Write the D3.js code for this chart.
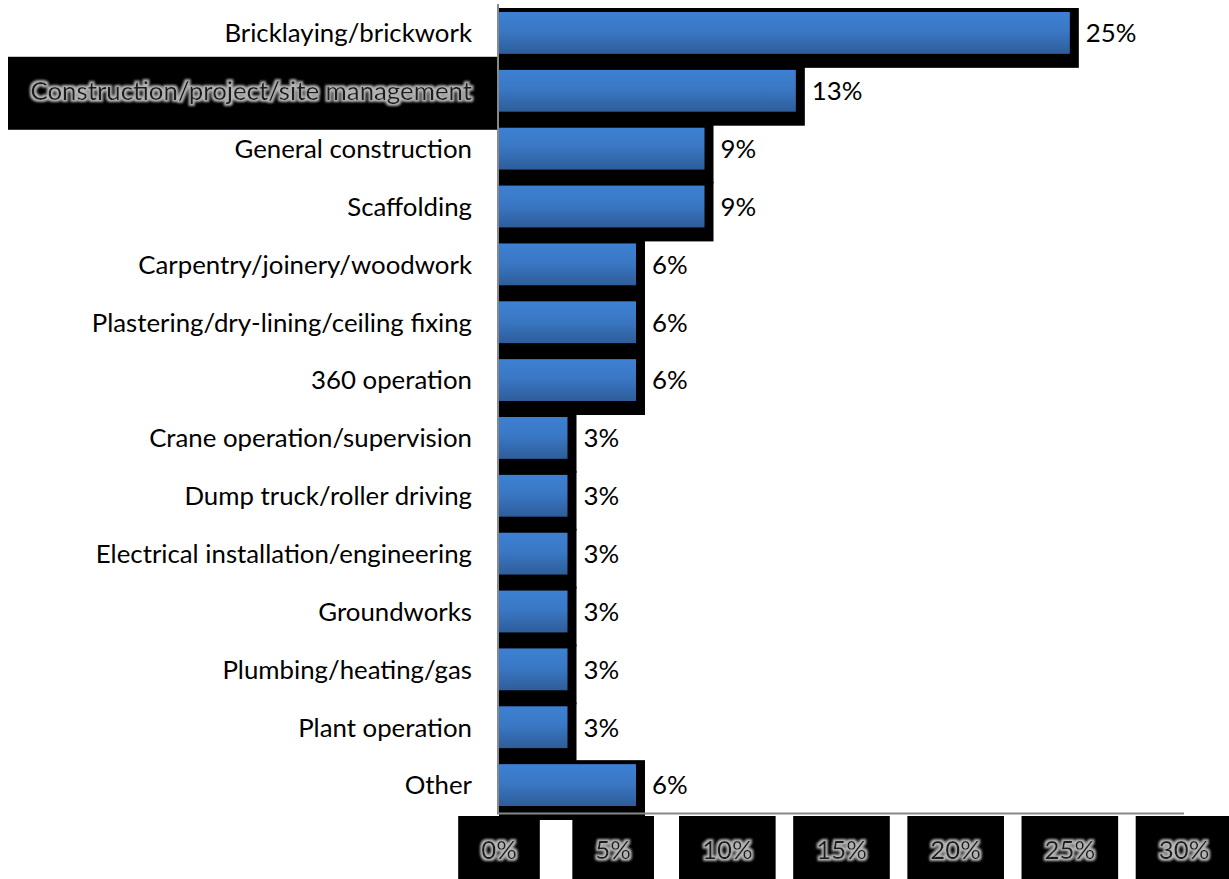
<!DOCTYPE html>
<html>
<head>
<meta charset="utf-8">
<script src="https://cdn.jsdelivr.net/npm/d3@7"></script>
<style>
  html, body { margin: 0; padding: 0; background: #fff; }
  svg { display: block; }
  text { font-family: Lato, "Open Sans", sans-serif; }
</style>
</head>
<body>
<svg id="chart" width="1229" height="879"></svg>
<script>
// Trades reported (share of respondents)
const categories = [
  "Bricklaying/brickwork",
  "Construction/project/site management",
  "General construction",
  "Scaffolding",
  "Carpentry/joinery/woodwork",
  "Plastering/dry-lining/ceiling fixing",
  "360 operation",
  "Crane operation/supervision",
  "Dump truck/roller driving",
  "Electrical installation/engineering",
  "Groundworks",
  "Plumbing/heating/gas",
  "Plant operation",
  "Other"
];
const values = [25, 13, 9, 9, 6, 6, 6, 3, 3, 3, 3, 3, 3, 6];
const tickValues = [0, 5, 10, 15, 20, 25, 30];
const highlighted = "Construction/project/site management";

const FONT_SIZE = 25.8;
const svg = d3.select("#chart");

const x = d3.scaleLinear().domain([0, 30]).range([499, 1184]);
const y = d3.scaleBand().domain(categories).range([4, 814])
  .paddingInner(0.277).paddingOuter(0.1385);

const defs = svg.append("defs");
const grad = defs.append("linearGradient").attr("id", "barFill")
  .attr("x1", 0).attr("y1", 0).attr("x2", 0).attr("y2", 1);
grad.append("stop").attr("offset", "0%").attr("stop-color", "#3d80d2");
grad.append("stop").attr("offset", "45%").attr("stop-color", "#3a78c5");
grad.append("stop").attr("offset", "100%").attr("stop-color", "#2e5d99");

// soft grey halo around dark text
const glow = defs.append("filter").attr("id", "glow")
  .attr("x", "-20%").attr("y", "-40%").attr("width", "140%").attr("height", "180%");
glow.append("feMorphology").attr("in", "SourceAlpha").attr("operator", "dilate")
  .attr("radius", 1.6).attr("result", "thick");
glow.append("feGaussianBlur").attr("in", "thick").attr("stdDeviation", 1.3).attr("result", "blur");
glow.append("feFlood").attr("flood-color", "#b4b4b4").attr("result", "col");
glow.append("feComposite").attr("in", "col").attr("in2", "blur").attr("operator", "in").attr("result", "halo");
const merge = glow.append("feMerge");
merge.append("feMergeNode").attr("in", "halo");
merge.append("feMergeNode").attr("in", "SourceGraphic");

// bars: black backing block plus gradient face
const bars = svg.append("g").selectAll("g").data(categories).join("g");
bars.append("rect")
  .attr("x", x(0))
  .attr("y", d => y(d) - 4)
  .attr("width", (d, i) => x(values[i]) - x(0) + 9)
  .attr("height", y.bandwidth() + 18)
  .attr("fill", "#000");
bars.append("rect")
  .attr("x", x(0))
  .attr("y", d => y(d))
  .attr("width", (d, i) => x(values[i]) - x(0))
  .attr("height", y.bandwidth())
  .attr("fill", "url(#barFill)");

// value labels
svg.append("g").selectAll("text").data(categories).join("text")
  .attr("x", (d, i) => x(values[i]) + 16)
  .attr("y", d => y(d) + y.bandwidth() / 2)
  .attr("dy", "0.36em")
  .attr("font-size", FONT_SIZE)
  .attr("fill", "#000")
  .text((d, i) => values[i] + "%");

// category labels
const catG = svg.append("g");
catG.selectAll("text").data(categories).join("text")
  .attr("x", 472)
  .attr("y", d => y(d) + y.bandwidth() / 2)
  .attr("dy", "0.36em")
  .attr("text-anchor", "end")
  .attr("font-size", FONT_SIZE)
  .attr("fill", d => d === highlighted ? "#1a1a1a" : "#000")
  .attr("filter", d => d === highlighted ? "url(#glow)" : null)
  .text(d => d)
  .each(function (d) {
    if (d !== highlighted) return;
    const cy = y(d) + y.bandwidth() / 2;
    d3.select(this.parentNode).insert("rect", ":first-child")
      .attr("x", 8).attr("y", cy - 34)
      .attr("width", 489).attr("height", 73)
      .attr("fill", "#000");
  });

// axis lines
svg.append("line").attr("x1", 498).attr("x2", 498).attr("y1", 4).attr("y2", 814)
  .attr("stroke", "#888").attr("stroke-width", 2);
svg.append("line").attr("x1", 497).attr("x2", x(30)).attr("y1", 813.5).attr("y2", 813.5)
  .attr("stroke", "#888").attr("stroke-width", 2);

// tick labels on dark tiles
const tickG = svg.append("g").selectAll("g").data(tickValues).join("g")
  .attr("transform", d => `translate(${x(d)},0)`);
tickG.append("text")
  .attr("x", 0).attr("y", 850).attr("dy", "0.36em")
  .attr("text-anchor", "middle")
  .attr("font-size", FONT_SIZE)
  .attr("fill", "#1a1a1a")
  .attr("filter", "url(#glow)")
  .text(d => d + "%")
  .each(function () {
    const w = this.getComputedTextLength() + 46;
    d3.select(this.parentNode).insert("rect", ":first-child")
      .attr("x", -w / 2).attr("y", 816).attr("width", w).attr("height", 70)
      .attr("fill", "#000");
  });
</script>
</body>
</html>
